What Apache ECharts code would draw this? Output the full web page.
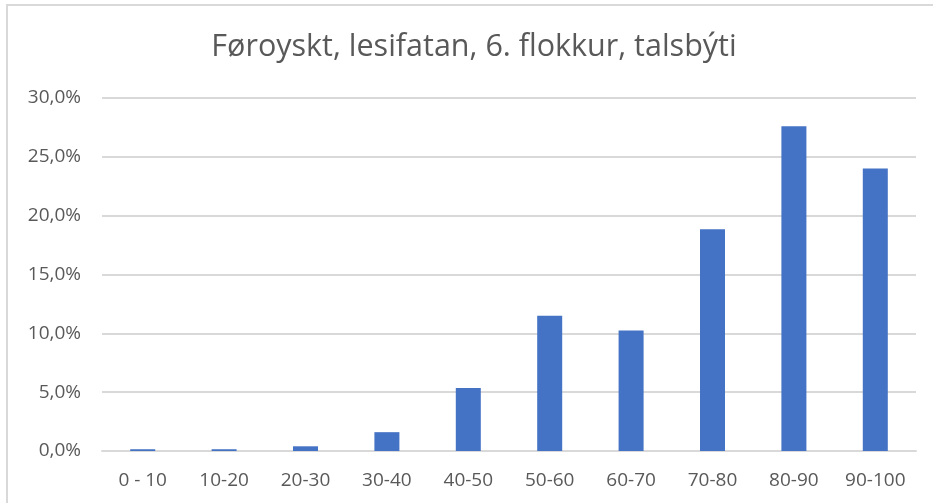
<!DOCTYPE html>
<html>
<head>
<meta charset="utf-8">
<script src="https://cdn.jsdelivr.net/npm/echarts@6/dist/echarts.min.js"></script>
<style>html,body{margin:0;padding:0;background:#fff;}#c{width:933px;height:503px;}</style>
</head>
<body>
<div id="c"></div>
<script>
var titleText = 'Føroyskt, lesifatan, 6. flokkur, talsbýti';
var categories = ['0 - 10', '10-20', '20-30', '30-40', '40-50', '50-60', '60-70', '70-80', '80-90', '90-100'];
var values = [0.15, 0.15, 0.4, 1.6, 5.35, 11.5, 10.25, 18.85, 27.6, 24.0];
var yTicks = [0, 5, 10, 15, 20, 25, 30];

var chart = echarts.init(document.getElementById('c'), null, {renderer: 'canvas'});
var font = '"Open Sans", "Liberation Sans", sans-serif';
chart.setOption({
  animation: false,
  backgroundColor: '#fff',
  title: {
    text: titleText,
    left: 469,
    textAlign: 'center',
    top: 27,
    textStyle: {fontFamily: font, fontSize: 30.5, fontWeight: 'normal', color: '#595959'}
  },
  graphic: [{
    type: 'rect',
    shape: {x: 7, y: 5, width: 1000, height: 1000},
    style: {fill: 'none', stroke: '#d9d9d9', lineWidth: 2},
    silent: true
  }],
  grid: {left: 102, right: 17, top: 98, bottom: 52},
  xAxis: {
    type: 'category',
    data: categories,
    axisTick: {show: false},
    axisLine: {lineStyle: {color: '#d9d9d9', width: 2}},
    axisLabel: {fontFamily: font, fontSize: 19, color: '#595959', margin: 20}
  },
  yAxis: {
    type: 'value',
    min: yTicks[0],
    max: yTicks[yTicks.length - 1],
    interval: 5,
    axisLine: {show: false},
    axisTick: {show: false},
    splitLine: {lineStyle: {color: '#d9d9d9', width: 2}},
    axisLabel: {
      fontFamily: font, fontSize: 19, color: '#595959', margin: 21,
      formatter: function (v) { return v.toFixed(1).replace('.', ',') + '%'; }
    }
  },
  series: [{
    type: 'bar',
    data: values,
    barWidth: 25,
    itemStyle: {color: '#4472C4'}
  }]
});
</script>
</body>
</html>
